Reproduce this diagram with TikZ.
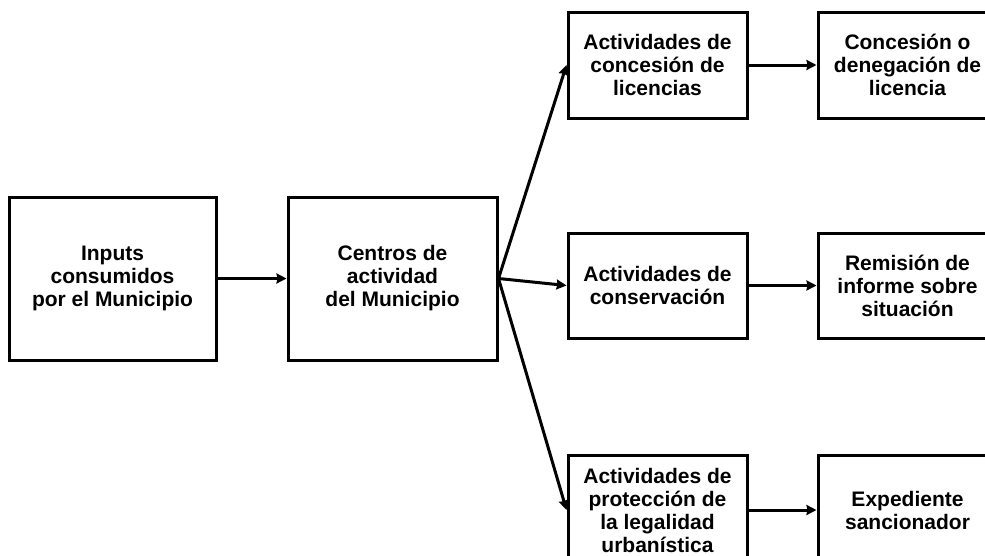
\documentclass[tikz,border=0pt]{standalone}
\usepackage{fontspec}
\setmainfont{Liberation Sans}
\usetikzlibrary{arrows.meta}

\begin{document}
\begin{tikzpicture}[x=1pt,y=-1pt]
	\useasboundingbox (0,0) rectangle (985,555);
	\clip (0,0) rectangle (985,555);

	\begin{scope}[every node/.style={draw,line width=3pt,align=center,inner sep=0pt,
	              font=\fontsize{21}{23}\selectfont\bfseries}]
	    \node[minimum width=207pt,minimum height=163pt] (inputs) at (112.5,278.5) {Inputs\\consumidos\\por el Municipio};
	    \node[minimum width=209pt,minimum height=163pt] (centros) at (392.5,278.5) {Centros de\\actividad\\del Municipio};
	    \node[minimum width=179pt,minimum height=106pt] (licencias) at (657.5,65) {Actividades de\\concesión de\\licencias};
	    \node[minimum width=179pt,minimum height=106pt] (concesion) at (907.5,65) {Concesión o\\denegación de\\licencia};
	    \node[minimum width=179pt,minimum height=105pt] (conservacion) at (657.5,285.5) {Actividades de\\conservación};
	    \node[minimum width=179pt,minimum height=105pt] (remision) at (907.5,285.5) {Remisión de\\informe sobre\\situación};
	    \node[minimum width=179pt,minimum height=110pt] (proteccion) at (657.5,510) {Actividades de\\protección de\\la legalidad\\urbanística};
	    \node[minimum width=179pt,minimum height=110pt] (expediente) at (907.5,510) {Expediente\\sancionador};
	\end{scope}

	\begin{scope}[>={Stealth[black,length=10pt,width=10pt,inset=1pt]},
	              every edge/.style={draw=black,line width=3pt}]
	    \path [->] (inputs) edge (centros);
	    \path [->] (centros.east) edge (licencias.west);
	    \path [->] (centros.east) edge (conservacion.west);
	    \path [->] (centros.east) edge (proteccion.west);
	    \path [->] (licencias) edge (concesion);
	    \path [->] (conservacion) edge (remision);
	    \path [->] (proteccion) edge (expediente);
	\end{scope}
\end{tikzpicture}
\end{document}
